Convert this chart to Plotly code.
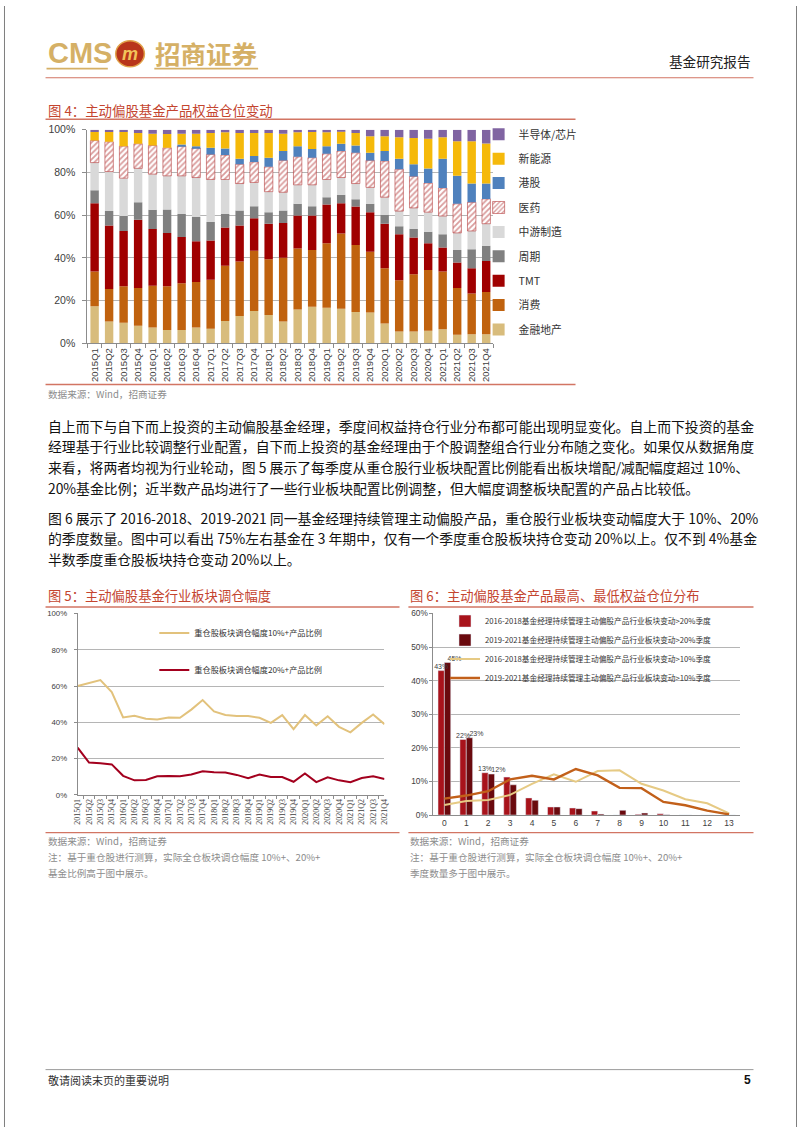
import numpy as np
import plotly.graph_objects as go

W, H = 802, 1133


def px(x):
    return x / W


def py(y):
    return 1 - y / H


CJK = "Noto Sans CJK SC"
LAT = "Liberation Sans"
RED_T = "#C4452F"
RULE = "#D27563"
GOLD = "#D5B066"

# ---------------- Figure 4 data ----------------
quarters = ["2015Q1", "2015Q2", "2015Q3", "2015Q4", "2016Q1", "2016Q2", "2016Q3", "2016Q4",
            "2017Q1", "2017Q2", "2017Q3", "2017Q4", "2018Q1", "2018Q2", "2018Q3", "2018Q4",
            "2019Q1", "2019Q2", "2019Q3", "2019Q4", "2020Q1", "2020Q2", "2020Q3", "2020Q4",
            "2021Q1", "2021Q2", "2021Q3", "2021Q4"]
fin = [17.4, 10.2, 9.7, 8.2, 7.4, 6.3, 6.3, 7.4, 6.9, 10.5, 12.8, 15.1, 13.3, 10.2,
       15.9, 17.1, 16.7, 16.2, 14.7, 14.4, 9.3, 5.6, 5.6, 5.9, 6.6, 4.0, 4.3, 4.3]
cons = [16.2, 15.3, 17.0, 17.7, 19.6, 20.4, 21.8, 21.3, 22.9, 25.8, 25.5, 28.3, 26.1, 29.9,
        28.5, 26.6, 30.1, 35.2, 31.3, 28.5, 25.9, 23.9, 26.7, 28.5, 27.0, 21.9, 19.0, 19.8]
tmt = [32.0, 29.7, 25.9, 32.0, 26.5, 25.0, 21.7, 19.1, 18.3, 17.9, 16.9, 15.2, 16.6, 16.2,
       15.5, 16.2, 18.2, 14.2, 18.0, 18.5, 20.8, 21.6, 17.2, 12.4, 11.3, 11.9, 11.9, 14.5]
cyc = [6.0, 6.7, 7.0, 8.1, 9.0, 11.0, 10.8, 11.3, 8.7, 6.4, 7.0, 5.6, 5.4, 5.9,
       5.4, 4.3, 3.4, 4.0, 3.4, 3.9, 4.2, 3.7, 4.2, 5.4, 6.2, 5.9, 8.8, 7.1]
mid = [13.0, 18.5, 17.7, 15.9, 16.7, 15.7, 17.8, 18.5, 19.9, 16.1, 12.6, 11.1, 9.6, 8.5,
       8.9, 10.0, 8.3, 8.0, 7.4, 7.7, 8.2, 7.1, 9.7, 9.2, 8.5, 8.0, 8.6, 10.3]
med = [10.3, 13.9, 15.0, 11.5, 13.4, 13.1, 13.9, 13.8, 11.7, 11.4, 9.0, 9.6, 11.6, 14.9,
       13.1, 12.7, 12.0, 12.4, 14.4, 12.6, 16.9, 19.6, 14.7, 13.6, 13.1, 13.6, 13.4, 11.6]
hk = [0, 0, 0, 0, 0, 0, 0.8, 0.9, 3.1, 3.1, 2.6, 2.8, 4.3, 4.4,
      5.0, 4.1, 3.6, 3.4, 3.4, 3.6, 4.7, 4.9, 5.7, 6.8, 13.7, 13.1, 8.8, 7.2]
newen = [4.0, 4.6, 6.6, 5.1, 5.5, 6.5, 5.0, 5.8, 7.0, 7.6, 12.1, 10.8, 11.6, 8.1,
         6.5, 7.9, 6.5, 5.8, 5.9, 7.7, 6.9, 10.1, 12.3, 14.0, 10.1, 16.2, 19.8, 18.7]
semi = [1.1, 1.1, 1.1, 1.5, 1.9, 2.0, 1.9, 1.9, 1.5, 1.2, 1.5, 1.5, 1.5, 1.9,
        1.2, 1.1, 1.2, 0.8, 1.5, 3.1, 3.1, 3.5, 3.9, 4.2, 3.5, 5.4, 5.4, 6.5]

sectors = ["金融地产", "消费", "TMT", "周期", "中游制造", "医药", "港股", "新能源", "半导体/芯片"]
sector_vals = [fin, cons, tmt, cyc, mid, med, hk, newen, semi]
sector_cols = ["#D8BC7C", "#C0620E", "#A00000", "#808080", "#D9D9D9", "#FFFFFF",
               "#4F81BD", "#F5B90A", "#8064A2"]

# ---------------- Figure 5 data ----------------
ratio10 = [60, 61.6, 63.3, 56.7, 42.7, 43.6, 42, 41.6, 42.6, 42.5, 47, 52.3, 46, 44,
           43.5, 43.5, 42.5, 39.7, 44, 36.2, 44, 38.3, 43.3, 37.5, 34.5, 39.7, 44.3, 39]
ratio20 = [26, 17.8, 17.4, 16.8, 10.5, 8, 8.2, 10.2, 10.4, 10.2, 11.2, 13, 12.4, 12.3,
           11, 9.2, 11.2, 9.8, 9.8, 7.2, 11.8, 7, 9.7, 8, 7, 9.3, 10.2, 8.7]
name10 = "重仓股板块调仓幅度10%+产品比例"
name20 = "重仓股板块调仓幅度20%+产品比例"

# ---------------- Figure 6 data ----------------
counts = [0, 1, 2, 3, 4, 5, 6, 7, 8, 9, 10, 11, 12, 13]
bar16 = [43.0, 22.5, 12.6, 11.3, 5.1, 2.4, 2.1, 1.2, 0, 0.2, 0.4, 0, 0, 0]
bar19 = [45.4, 23.0, 12.2, 9.0, 4.4, 2.4, 1.9, 0.3, 1.4, 0.6, 0.1, 0, 0, 0]
line16 = [3.0, 4.2, 4.5, 6.0, 9.3, 12.1, 9.9, 13.1, 13.3, 9.3, 7.3, 4.7, 3.5, 0.5]
line19 = [4.9, 5.8, 7.1, 10.6, 11.7, 10.6, 13.7, 11.8, 8.1, 8.0, 3.9, 2.9, 1.3, 0.2]
name_b16 = "2016-2018基金经理持续管理主动偏股产品行业板块变动>20%季度"
name_b19 = "2019-2021基金经理持续管理主动偏股产品行业板块变动>20%季度"
name_l16 = "2016-2018基金经理持续管理主动偏股产品行业板块变动>10%季度"
name_l19 = "2019-2021基金经理持续管理主动偏股产品行业板块变动>10%季度"
label_n = 3  # only the first three groups carry value labels

fig = go.Figure()

# ---- Figure 4 stacked bars (explicit bases) ----
base = np.zeros(len(quarters))
nsec = len(sectors)
for i, (name, vals, col) in enumerate(zip(sectors, sector_vals, sector_cols)):
    v = np.array(vals, dtype=float)
    marker = dict(color=col, line=dict(width=0))
    if name == "医药":
        marker = dict(color="white",
                      pattern=dict(shape="/", fgcolor="#B33A3A", bgcolor="white",
                                   size=4, solidity=0.45),
                      line=dict(color="#B33A3A", width=0.6))
    fig.add_trace(go.Bar(x=quarters, y=v, base=base.copy(), name=name, marker=marker,
                         width=0.58, xaxis="x", yaxis="y", legend="legend",
                         legendgroup=name, legendrank=nsec - i))
    base = base + v

# ---- Figure 5 lines ----
fig.add_trace(go.Scatter(x=quarters, y=ratio10, mode="lines", name=name10,
                         line=dict(color="#E2C27C", width=2), xaxis="x2", yaxis="y2",
                         legend="legend2", legendgroup="a"))
fig.add_trace(go.Scatter(x=quarters, y=ratio20, mode="lines", name=name20,
                         line=dict(color="#A3001E", width=2), xaxis="x2", yaxis="y2",
                         legend="legend2", legendgroup="b"))

# ---- Figure 6 bars + lines ----
bw = 0.29
fig.add_trace(go.Bar(x=counts, y=bar16, name=name_b16, marker=dict(color="#A8131B"),
                     width=bw, offset=-bw, xaxis="x3", yaxis="y3", legend="legend3"))
fig.add_trace(go.Bar(x=counts, y=bar19, name=name_b19, marker=dict(color="#6A0A0E"),
                     width=bw, offset=0.0, xaxis="x3", yaxis="y3", legend="legend3"))
fig.add_trace(go.Scatter(x=counts, y=line16, mode="lines", name=name_l16,
                         line=dict(color="#E6CA84", width=2), xaxis="x3", yaxis="y3",
                         legend="legend3"))
fig.add_trace(go.Scatter(x=counts, y=line19, mode="lines", name=name_l19,
                         line=dict(color="#C2601A", width=2.4), xaxis="x3", yaxis="y3",
                         legend="legend3"))
# value labels for the first groups
lab_x16 = [c - bw / 2 for c in counts[:label_n]]
lab_x19 = [c + bw / 2 for c in counts[:label_n]]
fig.add_trace(go.Scatter(x=lab_x16, y=bar16[:label_n], mode="text",
                         text=[f"{v:.0f}%" for v in bar16[:label_n]],
                         textposition="top center", cliponaxis=False,
                         textfont=dict(size=7, family=LAT, color="#404040"),
                         showlegend=False, hoverinfo="skip", xaxis="x3", yaxis="y3"))
fig.add_trace(go.Scatter(x=lab_x19, y=bar19[:label_n], mode="text",
                         text=[f"{v:.0f}%" for v in bar19[:label_n]],
                         textposition="top right", cliponaxis=False,
                         textfont=dict(size=7, family=LAT, color="#404040"),
                         showlegend=False, hoverinfo="skip", xaxis="x3", yaxis="y3"))

axis_line = "#8C8C8C"
grid = "#B5B5B5"

layout = dict(
    width=W, height=H, margin=dict(l=0, r=0, t=0, b=0),
    paper_bgcolor="white", plot_bgcolor="white",
    barmode="overlay", showlegend=True,
    font=dict(family=CJK, color="#222"),
    # Figure 4 axes
    xaxis=dict(domain=[px(84.3), px(495)], anchor="y", type="category",
               tickangle=-90, tickfont=dict(family=LAT, size=9.5, color="#404040"),
               showline=True, linecolor=axis_line, ticks="outside", tickson="boundaries",
               ticklen=4, tickcolor=axis_line, showgrid=False),
    yaxis=dict(domain=[py(341), py(125)], anchor="x", range=[0, 100], dtick=20,
               ticksuffix="%", tickfont=dict(family=LAT, size=10.5, color="#404040"),
               showline=True, linecolor=axis_line, ticks="outside", ticklen=4,
               tickcolor=axis_line, showgrid=True, gridcolor=grid, zeroline=False,
               ticklabelstandoff=5),
    # Figure 5 axes
    xaxis2=dict(domain=[px(74.5), px(384.8)], anchor="y2", type="category",
                tickangle=-90, tickfont=dict(family="Liberation Serif", size=8, color="#404040"),
                showline=True, linecolor=axis_line, ticks="outside", tickson="boundaries",
                ticklen=3, tickcolor=axis_line, showgrid=False),
    yaxis2=dict(domain=[py(797.3), py(614)], anchor="x2", range=[0, 100], dtick=20,
                ticksuffix="%", tickfont=dict(family=LAT, size=7.8, color="#404040"),
                showline=True, linecolor=axis_line, ticks="outside", ticklen=3,
                tickcolor=axis_line, showgrid=True, gridcolor=grid, zeroline=False,
                ticklabelstandoff=5),
    # Figure 6 axes
    xaxis3=dict(domain=[px(434.3), px(744.4)], anchor="y3", range=[-0.5, 13.5], dtick=1,
                tickfont=dict(family=LAT, size=8.5, color="#404040"),
                showline=True, linecolor=axis_line, ticks="", showgrid=False, zeroline=False),
    yaxis3=dict(domain=[py(817.7), py(614)], anchor="x3", range=[0, 60], dtick=10,
                ticksuffix="%", tickfont=dict(family=LAT, size=8.3, color="#404040"),
                showline=True, linecolor=axis_line, ticks="outside", ticklen=3,
                tickcolor=axis_line, showgrid=True, gridcolor=grid, zeroline=False),
    legend=dict(x=px(480), y=py(115), xanchor="left", yanchor="top",
                traceorder="grouped", tracegroupgap=5.4,
                font=dict(family=CJK, size=10.8, color="#333"), bgcolor="rgba(0,0,0,0)"),
    legend2=dict(x=px(152), y=py(619), xanchor="left", yanchor="top",
                 traceorder="grouped", tracegroupgap=18,
                 font=dict(family=CJK, size=8.2, color="#333"), bgcolor="rgba(0,0,0,0)"),
    legend3=dict(x=px(446), y=py(607), xanchor="left", yanchor="top",
                 font=dict(family=CJK, size=7.7, color="#333"), bgcolor="rgba(0,0,0,0)"),
)
fig.update_layout(**layout)

shapes = []


def hline(y, x0, x1, color, width):
    shapes.append(dict(type="line", xref="paper", yref="paper", x0=px(x0), x1=px(x1),
                       y0=py(y), y1=py(y), line=dict(color=color, width=width)))


# page edges
shapes.append(dict(type="line", xref="paper", yref="paper", x0=px(0.5), x1=px(0.5),
                   y0=0, y1=1, line=dict(color="#7F7F7F", width=1)))
shapes.append(dict(type="line", xref="paper", yref="paper", x0=px(801.5), x1=px(801.5),
                   y0=0, y1=1, line=dict(color="#7F7F7F", width=1)))
# header
hline(63.3, 43, 105, GOLD, 1.8)
hline(63.3, 152, 257, GOLD, 1.8)
hline(72.5, 42, 758, RULE, 1.2)
shapes.append(dict(type="circle", xref="paper", yref="paper",
                   x0=px(113), x1=px(142), y0=py(61.5), y1=py(35),
                   fillcolor="#B8351B", line=dict(color="#E0A24A", width=1.5)))
# figure rules
hline(114.5, 42, 578, RULE, 1.4)
hline(382.5, 42, 578, RULE, 1.4)
hline(607.5, 42, 400, RULE, 1.4)
hline(835.5, 42, 400, RULE, 1.4)
hline(607.5, 409, 758, RULE, 1.4)
hline(835.5, 409, 758, RULE, 1.4)
hline(1075, 42, 758, "#9A9A9A", 1)
fig.update_layout(shapes=shapes)

ann = []


def text(x, y, s, size, color="#1A1A1A", anchor="left", family=CJK, yanchor="middle"):
    ann.append(dict(xref="paper", yref="paper", x=px(x), y=py(y), text=s, showarrow=False,
                    xanchor=anchor, yanchor=yanchor, font=dict(family=family, size=size,
                                                               color=color)))


# header
text(42, 48, "<b>CMS</b>", 29, GOLD, family=LAT)
text(127.5, 48.5, "<b><i>m</i></b>", 18, "#F2C45A", anchor="center", family=LAT)
text(151, 47.5, "<b>招商证券</b>", 25.5, GOLD)
text(758, 55.5, "基金研究报告", 13.6, "#222", anchor="right")

# figure titles & sources
text(42, 105.5, "图 4：主动偏股基金产品权益仓位变动", 13.4, RED_T)
text(42, 392.5, "数据来源：Wind，招商证券", 9.6, "#8C8C8C")
text(42, 595.5, "图 5：主动偏股基金行业板块调仓幅度", 13.3, RED_T)
text(409, 595.5, "图 6：主动偏股基金产品最高、最低权益仓位分布", 13.3, RED_T)
text(42, 844, "数据来源：Wind，招商证券", 9.6, "#8C8C8C")
text(42, 860, "注：基于重仓股进行测算，实际全仓板块调仓幅度 10%+、20%+", 9.6, "#8C8C8C")
text(42, 876, "基金比例高于图中展示。", 9.6, "#8C8C8C")
text(409, 844, "数据来源：Wind，招商证券", 9.6, "#8C8C8C")
text(409, 860, "注：基于重仓股进行测算，实际全仓板块调仓幅度 10%+、20%+", 9.6, "#8C8C8C")
text(409, 876, "季度数量多于图中展示。", 9.6, "#8C8C8C")

# body paragraphs
body = [
    (424, "自上而下与自下而上投资的主动偏股基金经理，季度间权益持仓行业分布都可能出现明显变化。自上而下投资的基金"),
    (445, "经理基于行业比较调整行业配置，自下而上投资的基金经理由于个股调整组合行业分布随之变化。如果仅从数据角度"),
    (466, "来看，将两者均视为行业轮动，图 5 展示了每季度从重仓股行业板块配置比例能看出板块增配/减配幅度超过 10%、"),
    (487, "20%基金比例；近半数产品均进行了一些行业板块配置比例调整，但大幅度调整板块配置的产品占比较低。"),
    (517, "图 6 展示了 2016-2018、2019-2021 同一基金经理持续管理主动偏股产品，重仓股行业板块变动幅度大于 10%、20%"),
    (538, "的季度数量。图中可以看出 75%左右基金在 3 年期中，仅有一个季度重仓股板块持仓变动 20%以上。仅不到 4%基金"),
    (559, "半数季度重仓股板块持仓变动 20%以上。"),
]
for y, s in body:
    text(42, y, s, 13.85, "#111")

# footer
text(42, 1086, "敬请阅读末页的重要说明", 11, "#333")
text(758, 1086, "<b>5</b>", 12, "#111", anchor="right", family=LAT)

fig.update_layout(annotations=ann)

fig.write_html("out.html", config={"displayModeBar": False},
               post_script="document.body.style.margin='0';document.body.style.padding='0';")
